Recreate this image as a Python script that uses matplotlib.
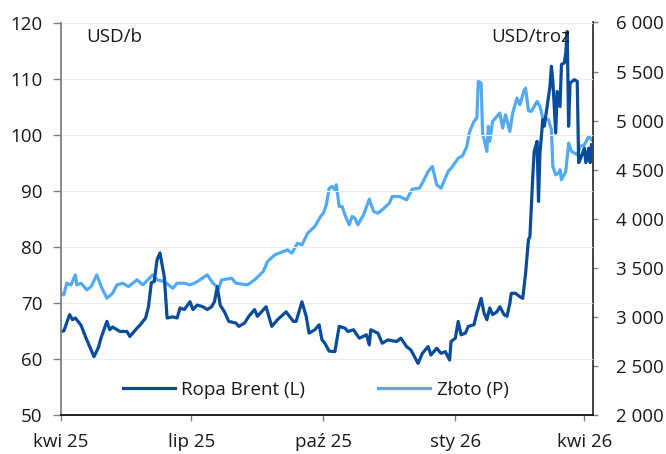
import matplotlib
matplotlib.use("Agg")
import matplotlib.pyplot as plt
import numpy as np
import pandas as pd

plt.rcParams['font.family'] = ['Open Sans', 'DejaVu Sans']

# Brent oil, USD/b (left axis)
oil_dates = [
    "2025-04-01", "2025-04-03", "2025-04-07", "2025-04-09", "2025-04-11", "2025-04-15", "2025-04-18", "2025-04-22", "2025-04-24", "2025-04-27",
    "2025-04-29", "2025-05-03", "2025-05-05", "2025-05-07", "2025-05-12", "2025-05-17", "2025-05-19", "2025-05-24", "2025-05-26", "2025-05-30",
    "2025-06-01", "2025-06-03", "2025-06-05", "2025-06-07", "2025-06-09", "2025-06-12", "2025-06-14", "2025-06-18", "2025-06-21", "2025-06-23",
    "2025-06-26", "2025-06-30", "2025-07-02", "2025-07-05", "2025-07-09", "2025-07-12", "2025-07-15", "2025-07-17", "2025-07-19", "2025-07-21",
    "2025-07-24", "2025-07-27", "2025-08-01", "2025-08-03", "2025-08-07", "2025-08-10", "2025-08-14", "2025-08-16", "2025-08-22", "2025-08-26",
    "2025-08-30", "2025-09-05", "2025-09-10", "2025-09-12", "2025-09-16", "2025-09-19", "2025-09-21", "2025-09-25", "2025-09-28", "2025-09-30",
    "2025-10-02", "2025-10-05", "2025-10-09", "2025-10-12", "2025-10-16", "2025-10-18", "2025-10-22", "2025-10-26", "2025-10-31", "2025-11-02",
    "2025-11-03", "2025-11-08", "2025-11-11", "2025-11-15", "2025-11-21", "2025-11-24", "2025-11-28", "2025-12-01", "2025-12-06", "2025-12-09",
    "2025-12-13", "2025-12-15", "2025-12-19", "2025-12-22", "2025-12-25", "2025-12-28", "2025-12-29", "2026-01-01", "2026-01-03", "2026-01-05",
    "2026-01-08", "2026-01-10", "2026-01-14", "2026-01-16", "2026-01-19", "2026-01-21", "2026-01-23", "2026-01-25", "2026-01-27", "2026-01-30",
    "2026-02-01", "2026-02-04", "2026-02-06", "2026-02-08", "2026-02-09", "2026-02-12", "2026-02-15", "2026-02-17", "2026-02-19", "2026-02-21",
    "2026-02-22", "2026-02-24", "2026-02-25", "2026-02-27", "2026-02-28", "2026-03-01", "2026-03-03", "2026-03-04", "2026-03-06", "2026-03-08",
    "2026-03-09", "2026-03-10", "2026-03-12", "2026-03-13", "2026-03-15", "2026-03-16", "2026-03-18", "2026-03-19", "2026-03-20", "2026-03-21",
    "2026-03-22", "2026-03-25", "2026-03-27", "2026-03-28", "2026-03-29", "2026-04-01", "2026-04-02", "2026-04-04", "2026-04-05", "2026-04-06",
]
oil_values = [
    64.9, 65.0, 67.9, 67.0, 67.3, 66.0, 64.0, 61.6, 60.4, 62.0,
    63.8, 66.7, 65.2, 65.7, 64.9, 64.9, 64.0, 65.5, 66.0, 67.3,
    69.3, 73.6, 73.8, 77.7, 78.9, 74.7, 67.3, 67.5, 67.3, 69.1,
    68.8, 70.2, 68.8, 69.6, 69.3, 68.8, 69.3, 70.2, 72.9, 69.6,
    68.4, 66.7, 66.4, 65.8, 66.4, 67.6, 68.8, 67.6, 69.3, 65.8,
    67.0, 68.4, 66.7, 66.7, 70.2, 67.6, 64.6, 65.2, 66.1, 63.4,
    62.8, 61.4, 61.3, 65.8, 65.5, 64.9, 65.2, 63.7, 64.3, 62.5,
    65.2, 64.6, 62.8, 63.4, 63.1, 63.7, 62.2, 61.6, 59.2, 61.0,
    62.2, 60.7, 61.9, 61.0, 61.3, 59.8, 63.1, 63.7, 66.7, 64.3,
    64.6, 65.8, 66.1, 68.2, 70.8, 68.2, 67.0, 69.1, 67.9, 68.4,
    69.3, 67.9, 67.6, 69.9, 71.7, 71.7, 71.1, 70.8, 75.3, 81.3,
    81.8, 92.6, 97.0, 98.8, 88.1, 96.7, 102.7, 101.5, 105.0, 108.6,
    112.2, 109.5, 100.3, 107.7, 105.0, 112.5, 112.8, 114.6, 118.4, 101.5,
    109.2, 109.8, 109.5, 95.0, 95.5, 97.6, 95.0, 97.6, 95.0, 98.2,
]

# gold, USD/troz (right axis)
gold_dates = [
    "2025-04-01", "2025-04-03", "2025-04-05", "2025-04-08", "2025-04-11", "2025-04-12", "2025-04-15", "2025-04-19", "2025-04-22", "2025-04-26",
    "2025-04-29", "2025-05-03", "2025-05-07", "2025-05-10", "2025-05-14", "2025-05-18", "2025-05-24", "2025-05-28", "2025-06-04", "2025-06-07",
    "2025-06-12", "2025-06-18", "2025-06-21", "2025-06-26", "2025-06-30", "2025-07-04", "2025-07-12", "2025-07-16", "2025-07-20", "2025-07-22",
    "2025-07-29", "2025-08-01", "2025-08-09", "2025-08-14", "2025-08-20", "2025-08-23", "2025-08-28", "2025-09-03", "2025-09-06", "2025-09-09",
    "2025-09-13", "2025-09-16", "2025-09-20", "2025-09-25", "2025-09-29", "2025-10-01", "2025-10-03", "2025-10-05", "2025-10-07", "2025-10-09",
    "2025-10-10", "2025-10-12", "2025-10-14", "2025-10-16", "2025-10-19", "2025-10-21", "2025-10-23", "2025-10-25", "2025-10-29", "2025-11-02",
    "2025-11-05", "2025-11-08", "2025-11-11", "2025-11-16", "2025-11-18", "2025-11-23", "2025-11-28", "2025-12-02", "2025-12-07", "2025-12-09",
    "2025-12-13", "2025-12-16", "2025-12-19", "2025-12-22", "2025-12-27", "2025-12-30", "2026-01-03", "2026-01-06", "2026-01-09", "2026-01-11",
    "2026-01-14", "2026-01-16", "2026-01-17", "2026-01-19", "2026-01-20", "2026-01-23", "2026-01-24", "2026-01-25", "2026-01-27", "2026-02-01",
    "2026-02-03", "2026-02-05", "2026-02-08", "2026-02-10", "2026-02-13", "2026-02-15", "2026-02-18", "2026-02-19", "2026-02-21", "2026-02-23",
    "2026-02-25", "2026-02-27", "2026-03-01", "2026-03-03", "2026-03-07", "2026-03-09", "2026-03-10", "2026-03-12", "2026-03-14", "2026-03-15",
    "2026-03-16", "2026-03-19", "2026-03-21", "2026-03-23", "2026-03-27", "2026-03-29", "2026-04-01", "2026-04-04", "2026-04-06",
]
gold_values = [
    3241, 3224, 3343, 3326, 3428, 3326, 3343, 3275, 3309, 3428,
    3309, 3190, 3241, 3326, 3343, 3309, 3377, 3326, 3428, 3377,
    3360, 3292, 3343, 3343, 3326, 3350, 3428, 3343, 3292, 3377,
    3394, 3343, 3326, 3377, 3462, 3564, 3632, 3666, 3683, 3649,
    3751, 3734, 3853, 3921, 4023, 4057, 4142, 4310, 4329, 4295,
    4346, 4125, 4125, 4040, 3938, 4023, 4006, 3938, 4040, 4200,
    4074, 4057, 4091, 4159, 4227, 4227, 4193, 4302, 4312, 4363,
    4482, 4533, 4346, 4312, 4482, 4533, 4618, 4640, 4737, 4890,
    4992, 5026, 5400, 5383, 4873, 4686, 4941, 4788, 4992, 5077,
    4924, 5060, 4890, 5077, 5230, 5162, 5310, 5330, 5100, 5094,
    5145, 5196, 5145, 5026, 5009, 4907, 4533, 4448, 4465, 4499,
    4397, 4482, 4771, 4686, 4652, 4737, 4754, 4839, 4805,
]

tick_dates = ["2025-04-01", "2025-07-01", "2025-10-01", "2026-01-01", "2026-04-01"]
tick_labels = ["kwi 25", "lip 25", "paź 25", "sty 26", "kwi 26"]
left_ticks = [50, 60, 70, 80, 90, 100, 110, 120]
right_ticks = [2000, 2500, 3000, 3500, 4000, 4500, 5000, 5500, 6000]

oil_color = "#0A4C9C"
gold_color = "#52AAF4"
fs = 13.5

fig = plt.figure(figsize=(6.66, 4.54), dpi=100)
ax = fig.add_axes([61 / 666, 1 - 415 / 454, 532 / 666, 392.5 / 454])
ax2 = ax.twinx()

# gold behind, oil on top
ax2.plot(pd.to_datetime(gold_dates), gold_values, color=gold_color, lw=2.3, label="Złoto (P)")
ax.plot(pd.to_datetime(oil_dates), oil_values, color=oil_color, lw=2.3, label="Ropa Brent (L)")
ax.set_zorder(ax2.get_zorder() + 1)
ax.patch.set_visible(False)

ax.set_xlim(pd.Timestamp("2025-04-01"), pd.Timestamp("2026-04-07"))
ax.set_ylim(50, 120)
ax2.set_ylim(2000, 6000)

ax.set_xticks(pd.to_datetime(tick_dates))
ax.set_xticklabels(tick_labels)
ax.set_yticks(left_ticks)
ax.set_yticklabels([str(v) for v in left_ticks])
ax2.set_yticks(right_ticks)
ax2.set_yticklabels([f"{v:,}".replace(",", " ") for v in right_ticks])

# faint horizontal grid
for v in left_ticks[1:]:
    ax.axhline(v, color="#ececec", lw=0.8, zorder=0)

for a in (ax, ax2):
    a.spines["top"].set_visible(False)
ax.spines["right"].set_visible(False)
ax.spines["left"].set_color("#808080")
ax.spines["left"].set_linewidth(1.3)
ax.spines["bottom"].set_color("#111111")
ax.spines["bottom"].set_linewidth(1.3)
ax2.spines["left"].set_visible(False)
ax2.spines["bottom"].set_visible(False)
ax2.spines["right"].set_color("#111111")
ax2.spines["right"].set_linewidth(1.1)

ax.tick_params(axis="x", length=4, width=1, color="#808080", pad=9, labelsize=fs, labelcolor="#1a1a1a")
ax.tick_params(axis="y", length=5.5, width=1, color="#808080", pad=8, labelsize=fs, labelcolor="#1a1a1a")
ax2.tick_params(axis="y", length=3.6, width=1, color="#808080", pad=13, labelsize=fs, labelcolor="#1a1a1a")

ax.text(0.047, 0.963, "USD/b", transform=ax.transAxes, ha="left", va="center", fontsize=fs, color="#1a1a1a")
ax.text(0.957, 0.963, "USD/troz", transform=ax.transAxes, ha="right", va="center", fontsize=fs, color="#1a1a1a")

h1, l1 = ax.get_legend_handles_labels()
h2, l2 = ax2.get_legend_handles_labels()
ax.legend(h1 + h2, l1 + l2, loc="center left", bbox_to_anchor=(0.1165, 0.064), ncol=2,
          frameon=False, fontsize=fs, handlelength=2.75, handletextpad=0.36,
          columnspacing=3.9, borderpad=0, borderaxespad=0, labelcolor="#1a1a1a")

fig.savefig("out.png", dpi=100)
